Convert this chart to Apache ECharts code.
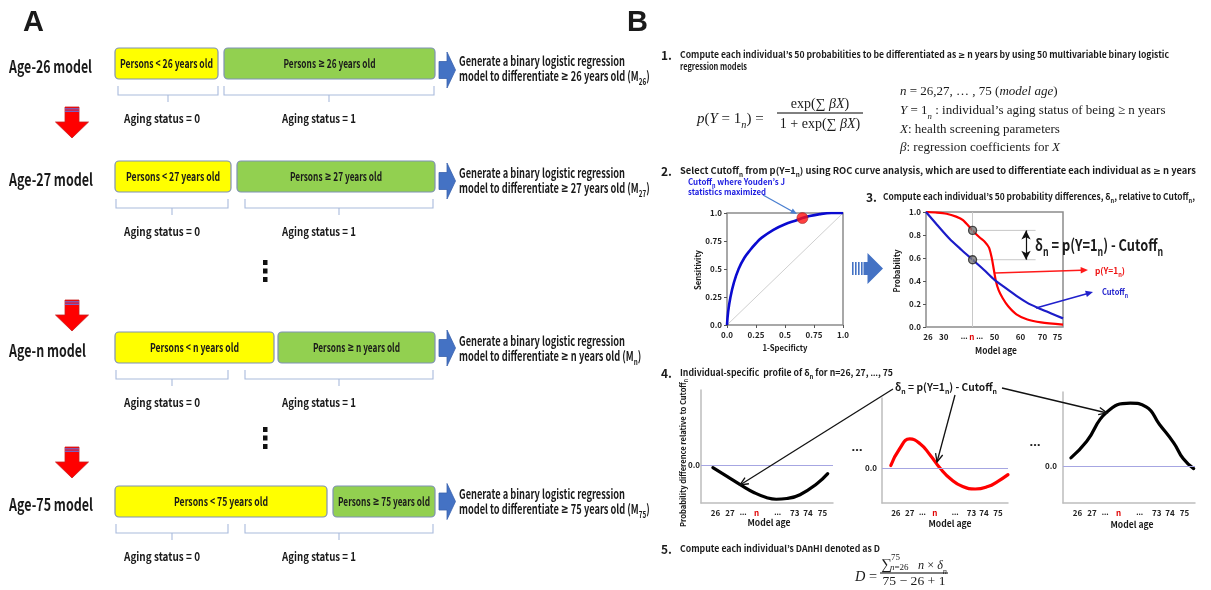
<!DOCTYPE html>
<html>
<head>
<meta charset="utf-8">
<script src="https://cdn.jsdelivr.net/npm/echarts@6.0.0/dist/echarts.min.js"></script>
<style>
  html, body { margin: 0; padding: 0; background: #fff; }
  #chart { width: 1211px; height: 590px; }
</style>
</head>
<body>
<div id="chart"></div>
<script>
// ---- data ----
const modelAges = ['26', '27', 'n', '75'];

// ROC curve (1-specificity, sensitivity)
const rocX = [0, 0.01, 0.03, 0.06, 0.1, 0.15, 0.2, 0.25, 0.3, 0.4, 0.5, 0.6, 0.65, 0.7, 0.8, 0.9, 1];
const rocY = [0, 0.12, 0.25, 0.38, 0.5, 0.6, 0.67, 0.73, 0.78, 0.85, 0.9, 0.935, 0.955, 0.97, 0.99, 1.0, 1.0];
const rocCutoffIndex = 12;
const rocTicks = [0, 0.25, 0.5, 0.75, 1];
const rocTickLabels = ['0.0', '0.25', '0.5', '0.75', '1.0'];

// probability vs model age (schematic age positions 0..100)
const probAgePos = [0, 8, 15, 22, 27, 34, 39, 43, 46, 48, 49.5, 51, 53, 56, 60, 66, 74, 84, 100];
const probValues = [1.0, 0.995, 0.985, 0.96, 0.93, 0.84, 0.78, 0.74, 0.69, 0.6, 0.5, 0.4, 0.32, 0.25, 0.18, 0.11, 0.065, 0.04, 0.02];
const cutoffAgePos = [0, 8, 17, 26, 34, 42, 50, 58, 66, 74, 82, 91, 100];
const cutoffValues = [1.0, 0.89, 0.77, 0.67, 0.585, 0.5, 0.41, 0.34, 0.27, 0.21, 0.165, 0.12, 0.075];
const nAgePos = 34;
const probTickPos = [1.5, 13, 33.5, 50, 69, 85, 96];
const probTickLabels = ['26', '30', '{g|…} {r|n} {g|…}', '50', '60', '70', '75'];

// individual profiles of delta_n
const profileTickPos = [11, 22, 32, 42, 58, 71, 81, 92];
const profileTickLabels = ['26', '27', '{g|…}', '{r|n}', '{g|…}', '73', '74', '75'];
const profileAX = [9, 20, 30, 40, 50, 57, 65, 75, 88, 96];
const profileAY = [-0.06, -0.3, -0.52, -0.72, -0.86, -0.9, -0.88, -0.78, -0.48, -0.22];
const profileBX = [7, 14, 22, 30, 38, 46, 55, 64, 74, 84, 92, 100];
const profileBY = [0.07, 0.55, 0.83, 0.7, 0.38, 0, -0.33, -0.53, -0.6, -0.53, -0.38, -0.19];
const profileCX = [6, 18, 33, 51, 63, 73, 84, 91, 99];
const profileCY = [0.22, 0.67, 1.45, 1.7, 1.6, 1.13, 0.62, 0.2, -0.07];

// ---- layout ----
const FONT = '"Noto Sans CJK KR", "Noto Sans", sans-serif';
const GLYPH = '"Noto Sans", "DejaVu Sans", sans-serif';
const SERIF = '"Liberation Serif", "DejaVu Serif", serif';
const SANS = '"Liberation Sans", Arial, sans-serif';
const INK = '#1a1a1a';

const rowTop = [48, 161, 332, 486];
const yellowEnd = [218, 231, 274, 327];
const greenStart = [224, 237, 278, 333];
const rowLabelW = [83, 84, 77, 84];
const lessW = [93, 94, 89, 94];
const geW = [92, 92, 87, 92];
const chevronY = [70, 181, 348, 501.5];
const genY = [61, 173, 341, 494];
const downArrowTop = [107, 300, 447];

const ctx = document.createElement('canvas').getContext('2d');
function measure(str, size, weight, family, fstyle) {
  ctx.font = `${fstyle} ${weight} ${size}px ${family}`;
  return ctx.measureText(str).width;
}

// text helper: rich tags s (sub), si (italic sub), i (italic), sup, r (red), g (symbol glyphs)
function T(x, y, text, o) {
  o = o || {};
  const size = o.size || 10;
  const weight = o.weight || 'bold';
  const family = o.family || FONT;
  const fstyle = o.italic ? 'italic' : 'normal';
  const color = o.color || INK;
  const sub = Math.round(size * 0.68 * 10) / 10;
  if (family === FONT) text = text.replace(/≥/g, '{g|≥}').replace(/…/g, '{g|…}');
  let w = 0;
  text.replace(/\{(\w+)\|([^}]*)\}|([^{]+)/g, (m, k, t, p) => {
    if (p) w += measure(p, size, weight, family, fstyle);
    else w += measure(t, (k === 's' || k === 'si' || k === 'sup') ? sub : size, weight, k === 'g' ? GLYPH : family,
      (k === 'i' || k === 'si') ? 'italic' : fstyle);
    return m;
  });
  const scaleX = o.sx || (o.w ? o.w / w : 1);
  const base = { fontWeight: weight, fontFamily: family, fill: color };
  return {
    type: 'text', x, y, rotation: o.rot || 0, scaleX, z: 120, silent: true,
    style: {
      text, fill: color, fontSize: size, fontWeight: weight, fontFamily: family, fontStyle: fstyle,
      align: o.align || 'left', verticalAlign: 'middle', lineHeight: size * 1.5,
      rich: {
        s: Object.assign({}, base, { fontSize: sub, fontStyle: fstyle, verticalAlign: 'bottom', lineHeight: size * 0.9 }),
        si: Object.assign({}, base, { fontSize: sub, fontStyle: 'italic', verticalAlign: 'bottom', lineHeight: size * 0.9 }),
        sup: Object.assign({}, base, { fontSize: sub, fontStyle: fstyle, verticalAlign: 'top', lineHeight: size * 0.9 }),
        i: Object.assign({}, base, { fontSize: size, fontStyle: 'italic', lineHeight: size * 1.5 }),
        r: Object.assign({}, base, { fontSize: size, fontStyle: fstyle, fill: '#e00000', lineHeight: size * 1.5 }),
        g: Object.assign({}, base, { fontSize: size, fontFamily: GLYPH, fontStyle: fstyle, lineHeight: size * 1.5 })
      }
    }
  };
}

function arrow(x1, y1, x2, y2, color, width, head, filled) {
  const a = Math.atan2(y2 - y1, x2 - x1), s = 0.42;
  const p1 = [x2 - head * Math.cos(a - s), y2 - head * Math.sin(a - s)];
  const p2 = [x2 - head * Math.cos(a + s), y2 - head * Math.sin(a + s)];
  const ex = filled ? x2 - head * 0.8 * Math.cos(a) : x2;
  const ey = filled ? y2 - head * 0.8 * Math.sin(a) : y2;
  return [
    { type: 'line', z: 110, silent: true, shape: { x1, y1, x2: ex, y2: ey }, style: { stroke: color, lineWidth: width } },
    filled
      ? { type: 'polygon', z: 110, silent: true, shape: { points: [[x2, y2], p1, p2] }, style: { fill: color } }
      : { type: 'polyline', z: 110, silent: true, shape: { points: [p1, [x2, y2], p2] }, style: { stroke: color, lineWidth: width, fill: 'none' } }
  ];
}

const G = [];
const add = (...els) => els.forEach(e => Array.isArray(e) ? G.push(...e) : G.push(e));

// ---- panel A ----
add(T(23, 22.5, 'A', { size: 29, family: SANS }));
add(T(627, 22.5, 'B', { size: 29, family: SANS }));

modelAges.forEach((age, i) => {
  const top = rowTop[i], bot = top + 31, cy = top + 15.5;
  add(T(9, cy + 3, `Age-${age} model`, { size: 17, w: rowLabelW[i] }));
  add({ type: 'rect', z: 100, shape: { x: 115, y: top, width: yellowEnd[i] - 115, height: 31, r: 4 },
        style: { fill: '#ffff00', stroke: '#7f91b5', lineWidth: 1.2 } });
  add({ type: 'rect', z: 100, shape: { x: greenStart[i], y: top, width: 435 - greenStart[i], height: 31, r: 4 },
        style: { fill: '#92d050', stroke: '#7f91b5', lineWidth: 1.2 } });
  add(T((115 + yellowEnd[i]) / 2, cy, `Persons < ${age} years old`, { size: 12, align: 'center', w: lessW[i] }));
  add(T((greenStart[i] + 435) / 2, cy, `Persons ≥ ${age} years old`, { size: 12, align: 'center', w: geW[i] }));

  const br = i === 0 ? [[118, 218], [224, 434]] : [[116, 228], [245, 433]];
  br.forEach(([l, r]) => {
    add({ type: 'polyline', z: 100, shape: { points: [[l, bot + 7], [l, bot + 16], [r, bot + 16], [r, bot + 7]] },
          style: { stroke: '#a9bbdc', lineWidth: 1.1, fill: 'none' } });
    add({ type: 'line', z: 100, shape: { x1: (l + r) / 2, y1: bot + 16, x2: (l + r) / 2, y2: bot + 23 },
          style: { stroke: '#a9bbdc', lineWidth: 1.1 } });
  });
  add(T(124, bot + 39, 'Aging status = 0', { size: 12, w: 76 }));
  add(T(282, bot + 39, 'Aging status = 1', { size: 12, w: 74 }));

  const c = chevronY[i];
  add({ type: 'polygon', z: 100, shape: { points: [[439, c - 8.5], [447, c - 8.5], [447, c - 18], [455.5, c], [447, c + 18], [447, c + 8.5], [439, c + 8.5]] },
        style: { fill: '#4472c4', stroke: '#3a62ad', lineWidth: 0.8 } });
  const g1 = T(459, genY[i], 'Generate a binary logistic regression', { size: 13, w: 166 });
  add(g1);
  add(T(459, genY[i] + 15, `model to differentiate ≥ ${age} years old (M{s|${age}})`, { size: 13, sx: g1.scaleX }));
});

downArrowTop.forEach(t => {
  add({ type: 'polygon', z: 100, shape: { points: [[65, t], [79, t], [79, t + 15], [88.5, t + 15], [72, t + 31], [55.5, t + 15], [65, t + 15]] },
        style: { fill: '#ff0000', stroke: '#c62020', lineWidth: 0.8 } });
  add({ type: 'rect', z: 101, shape: { x: 65, y: t + 1.2, width: 14, height: 1.3 }, style: { fill: '#6b6bd6' } });
  add({ type: 'rect', z: 101, shape: { x: 65, y: t + 3.6, width: 14, height: 1.3 }, style: { fill: '#6b6bd6' } });
});

[[260, 268.5, 277], [427, 435.5, 444]].forEach(ys => ys.forEach(y => {
  add({ type: 'rect', z: 100, shape: { x: 263, y, width: 4.5, height: 5 }, style: { fill: '#111' } });
}));

// ---- panel B texts ----
add(T(661, 55, '1.', { size: 12 }));
add(T(680, 55, 'Compute each individual’s 50 probabilities to be differentiated as ≥ n years by using 50 multivariable binary logistic', { size: 9, w: 489 }));
add(T(680, 67, 'regression models', { size: 9, w: 67 }));

add(T(697, 119, '{i|p}({i|Y} = 1{si|n}) =', { size: 15, weight: 'normal', family: SERIF }));
add(T(820, 104, 'exp(∑ {i|βX})', { size: 14, weight: 'normal', family: SERIF, align: 'center' }));
add({ type: 'line', z: 100, shape: { x1: 777, y1: 113, x2: 863, y2: 113 }, style: { stroke: '#000', lineWidth: 1 } });
add(T(820, 124, '1 + exp(∑ {i|βX})', { size: 14, weight: 'normal', family: SERIF, align: 'center' }));

const defs = [
  '{i|n} = 26,27, … , 75 ({i|model age})',
  '{i|Y} = 1{si|n} : individual’s aging status of being ≥ n years',
  '{i|X}: health screening parameters',
  '{i|β}: regression coefficients for {i|X}'
];
[92, 111, 130, 148].forEach((y, i) => add(T(900, y, defs[i], { size: 13, weight: 'normal', family: SERIF })));

add(T(661, 171, '2.', { size: 12 }));
add(T(680, 171, 'Select Cutoff{s|n} from p(Y=1{s|n}) using ROC curve analysis, which are used to differentiate each individual as ≥ n years', { size: 9, w: 516 }));
add(T(688, 182, 'Cutoff{s|n} where Youden’s J', { size: 8.5, color: '#1c1ce0', w: 97 }));
add(T(688, 191.5, 'statistics maximized', { size: 8.5, color: '#1c1ce0', w: 78 }));
add(arrow(763, 195, 797, 214, '#4a7fd0', 1.3, 7, true));

add(T(785, 348, '1-Specificty', { size: 8.5, align: 'center', w: 45 }));
add(T(698, 270, 'Sensitivity', { size: 8.5, align: 'center', rot: Math.PI / 2, w: 40 }));

// striped block arrow
[852, 855, 858, 861].forEach(x => add({ type: 'rect', z: 100, shape: { x, y: 262, width: 1.6, height: 13 }, style: { fill: '#4472c4' } }));
add({ type: 'polygon', z: 100, shape: { points: [[863.5, 262], [867.5, 262], [867.5, 253], [883, 268.5], [867.5, 284], [867.5, 275], [863.5, 275]] },
      style: { fill: '#4472c4' } });

add(T(866, 197, '3.', { size: 12 }));
add(T(883, 197, 'Compute each individual’s 50 probability differences, δ{s|n}, relative to Cutoff{s|n},', { size: 9, w: 312 }));
add(T(1035, 245, 'δ{s|n} = p(Y=1{s|n}) - Cutoff{s|n}', { size: 16, w: 128 }));
add(arrow(995, 273, 1088, 270, '#ff1a1a', 1.6, 8, true));
add(T(1095, 271, 'p(Y=1{s|n})', { size: 8.5, color: '#ee1111', w: 30 }));
add(arrow(1036, 308, 1093, 292, '#2020cc', 1.6, 8, true));
add(T(1102, 292, 'Cutoff{s|n}', { size: 8.5, color: '#2020cc', w: 26 }));
add(T(996, 351, 'Model age', { size: 9, align: 'center', w: 42 }));
add(T(897, 271, 'Probability', { size: 8.5, align: 'center', rot: Math.PI / 2, w: 43 }));

add(T(661, 373, '4.', { size: 12 }));
add(T(680, 373, 'Individual-specific  profile of δ{s|n} for n=26, 27, …, 75', { size: 9, w: 213 }));
add(T(683, 453, 'Probability difference relative to Cutoff{s|n}', { size: 8, align: 'center', rot: Math.PI / 2, w: 148 }));
add(T(895, 387, 'δ{s|n} = p(Y=1{s|n}) - Cutoff{s|n}', { size: 10.5, w: 102 }));
add(arrow(893, 389, 740, 485, '#111', 1.3, 9, false));
add(arrow(955, 395, 937, 462, '#111', 1.3, 9, false));
add(arrow(1002, 388, 1107, 413, '#111', 1.3, 9, false));
add(T(857, 447, '…', { size: 13, align: 'center' }));
add(T(1035, 442, '…', { size: 13, align: 'center' }));
add(T(769, 523, 'Model age', { size: 9, align: 'center', w: 43 }));
add(T(950, 524, 'Model age', { size: 9, align: 'center', w: 43 }));
add(T(1132, 525, 'Model age', { size: 9, align: 'center', w: 43 }));

add(T(661, 549, '5.', { size: 12 }));
add(T(680, 549, 'Compute each individual’s DAnHI denoted as D', { size: 9, w: 200 }));
add(T(855, 577, '{i|D} =', { size: 14, weight: 'normal', family: SERIF, w: 22 }));
add(T(881, 565, '∑', { size: 15, weight: 'normal', family: SERIF }));
add(T(891, 558, '75', { size: 9, weight: 'normal', family: SERIF }));
add(T(890, 568, '{i|n}=26', { size: 9, weight: 'normal', family: SERIF }));
add(T(918, 566, '{i|n} × {i|δ}{si|n}', { size: 13, weight: 'normal', family: SERIF, w: 29 }));
add({ type: 'line', z: 100, shape: { x1: 880, y1: 573, x2: 948, y2: 573 }, style: { stroke: '#000', lineWidth: 1 } });
add(T(914, 582, '75 − 26 + 1', { size: 13, weight: 'normal', family: SERIF, align: 'center', w: 63 }));

// ---- chart ----
const labelStyle = { color: '#222', fontSize: 8, fontWeight: 'bold', fontFamily: FONT };
const axisRich = {
  r: { color: '#e00000', fontSize: 8, fontWeight: 'bold', fontFamily: FONT },
  g: { color: '#222', fontSize: 8, fontWeight: 'bold', fontFamily: GLYPH }
};
const frame = { show: true, borderColor: '#8c8c8c', borderWidth: 1.5, backgroundColor: 'transparent' };

const profileGrids = [
  { left: 701, top: 390, width: 132, height: 113 },
  { left: 882, top: 398, width: 126, height: 105 },
  { left: 1063, top: 392, width: 132, height: 111 }
];
const zeroLabelMargin = [1, 5, 6];

const profileX = () => ({
  type: 'value', min: 0, max: 100,
  axisLine: { show: true, onZero: false, lineStyle: { color: '#bdbdbd', width: 1.5 } },
  axisTick: { show: false }, splitLine: { show: false },
  axisLabel: Object.assign({}, labelStyle, { margin: 6, customValues: profileTickPos,
    formatter: v => profileTickLabels[profileTickPos.indexOf(v)], rich: axisRich })
});
const profileY = (i) => ({
  type: 'value', min: -1, max: 2,
  axisLine: { show: true, lineStyle: { color: '#bdbdbd', width: 1.5 } },
  axisTick: { show: false }, splitLine: { show: false },
  axisLabel: Object.assign({}, labelStyle, { margin: zeroLabelMargin[i], customValues: [0], formatter: () => '0.0' })
});

const zeroLine = {
  silent: true, symbol: ['none', 'none'], label: { show: false },
  lineStyle: { color: '#a6a6e2', width: 1, type: 'solid' }, data: [{ yAxis: 0 }]
};

const pN = probValues[probAgePos.indexOf(nAgePos)];
const cN = cutoffValues[cutoffAgePos.indexOf(nAgePos)];
const guideEnd = 80;
const deltaArrowPos = 73;

const option = {
  animation: false,
  textStyle: { fontFamily: FONT },
  grid: [
    Object.assign({ left: 727, top: 213, width: 116, height: 112 }, frame),
    Object.assign({ left: 926, top: 212, width: 137, height: 115 }, frame),
    ...profileGrids
  ],
  xAxis: [
    { gridIndex: 0, type: 'value', min: 0, max: 1, interval: 0.25,
      axisLine: { show: false, onZero: false }, splitLine: { show: false },
      axisTick: { show: true, length: 3, lineStyle: { color: '#555' } },
      axisLabel: Object.assign({}, labelStyle, { margin: 6, formatter: v => rocTickLabels[rocTicks.indexOf(v)] }) },
    { gridIndex: 1, type: 'value', min: 0, max: 100,
      axisLine: { show: false, onZero: false }, splitLine: { show: false }, axisTick: { show: false },
      axisLabel: Object.assign({}, labelStyle, { margin: 6, customValues: probTickPos,
        formatter: v => probTickLabels[probTickPos.indexOf(v)], rich: axisRich }) },
    Object.assign({ gridIndex: 2 }, profileX()),
    Object.assign({ gridIndex: 3 }, profileX()),
    Object.assign({ gridIndex: 4 }, profileX())
  ],
  yAxis: [
    { gridIndex: 0, type: 'value', min: 0, max: 1, interval: 0.25,
      axisLine: { show: false }, splitLine: { show: false },
      axisTick: { show: true, length: 3, lineStyle: { color: '#555' } },
      axisLabel: Object.assign({}, labelStyle, { margin: 5, formatter: v => rocTickLabels[rocTicks.indexOf(v)] }) },
    { gridIndex: 1, type: 'value', min: 0, max: 1, interval: 0.2,
      axisLine: { show: false }, splitLine: { show: false },
      axisTick: { show: true, length: 3, lineStyle: { color: '#555' } },
      axisLabel: Object.assign({}, labelStyle, { margin: 5, formatter: v => v.toFixed(1) }) },
    Object.assign({ gridIndex: 2 }, profileY(0)),
    Object.assign({ gridIndex: 3 }, profileY(1)),
    Object.assign({ gridIndex: 4 }, profileY(2))
  ],
  series: [
    // ROC
    { type: 'line', xAxisIndex: 0, yAxisIndex: 0, data: [[0, 0], [1, 1]], symbol: 'none', silent: true,
      lineStyle: { color: '#cfcfcf', width: 1 } },
    { type: 'line', xAxisIndex: 0, yAxisIndex: 0, data: rocX.map((x, i) => [x, rocY[i]]), symbol: 'none',
      smooth: 0.4, lineStyle: { color: '#0a0ad0', width: 2.6 } },
    { type: 'scatter', xAxisIndex: 0, yAxisIndex: 0, data: [[rocX[rocCutoffIndex], rocY[rocCutoffIndex]]], symbolSize: 11,
      itemStyle: { color: '#ff1010', borderColor: '#a03030', borderWidth: 0.8 }, z: 5 },
    // probability
    { type: 'line', xAxisIndex: 1, yAxisIndex: 1, data: [[nAgePos, pN], [guideEnd, pN]], symbol: 'none', silent: true,
      lineStyle: { color: '#c8c8c8', width: 1 },
      markLine: { silent: true, symbol: ['none', 'none'], label: { show: false },
        lineStyle: { color: '#c8c8c8', width: 1, type: 'solid' }, data: [{ xAxis: nAgePos }] } },
    { type: 'line', xAxisIndex: 1, yAxisIndex: 1, data: [[nAgePos, cN], [guideEnd, cN]], symbol: 'none', silent: true,
      lineStyle: { color: '#c8c8c8', width: 1 },
      markLine: { silent: true, symbol: ['arrow', 'arrow'], symbolSize: [7, 9], label: { show: false },
        lineStyle: { color: '#111', width: 1.2, type: 'solid' },
        data: [[{ coord: [deltaArrowPos, pN] }, { coord: [deltaArrowPos, cN] }]] } },
    { type: 'line', xAxisIndex: 1, yAxisIndex: 1, data: probAgePos.map((x, i) => [x, probValues[i]]), symbol: 'none',
      smooth: 0.25, lineStyle: { color: '#ff0000', width: 2.2 } },
    { type: 'line', xAxisIndex: 1, yAxisIndex: 1, data: cutoffAgePos.map((x, i) => [x, cutoffValues[i]]), symbol: 'none',
      smooth: 0.3, lineStyle: { color: '#1c1cc8', width: 2.2 } },
    { type: 'scatter', xAxisIndex: 1, yAxisIndex: 1, data: [[nAgePos, pN], [nAgePos, cN]], symbolSize: 8, z: 5,
      itemStyle: { color: '#7a7a7a', borderColor: '#222', borderWidth: 1.3 } },
    // profiles
    { type: 'line', xAxisIndex: 2, yAxisIndex: 2, data: profileAX.map((x, i) => [x, profileAY[i]]), symbol: 'none',
      smooth: 0.5, lineStyle: { color: '#000', width: 3.2, cap: 'round' }, markLine: zeroLine },
    { type: 'line', xAxisIndex: 3, yAxisIndex: 3, data: profileBX.map((x, i) => [x, profileBY[i]]), symbol: 'none',
      smooth: 0.5, lineStyle: { color: '#ff0000', width: 3.2, cap: 'round' }, markLine: zeroLine },
    { type: 'line', xAxisIndex: 4, yAxisIndex: 4, data: profileCX.map((x, i) => [x, profileCY[i]]), symbol: 'none',
      smooth: 0.5, lineStyle: { color: '#000', width: 3.2, cap: 'round' }, markLine: zeroLine }
  ],
  graphic: { elements: G }
};

const chart = echarts.init(document.getElementById('chart'));
chart.setOption(option);
</script>
</body>
</html>
